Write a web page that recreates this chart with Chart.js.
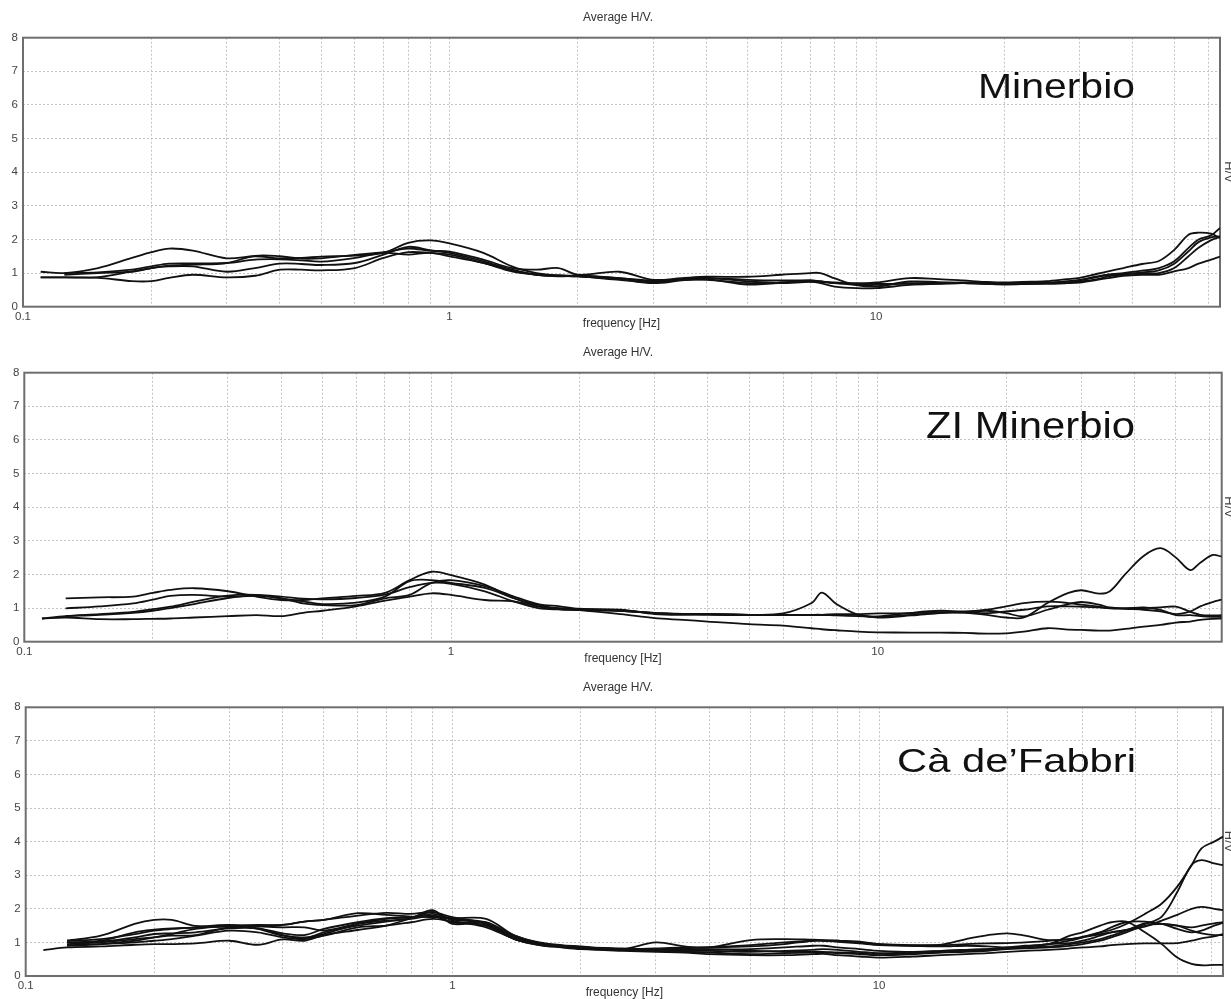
<!DOCTYPE html>
<html>
<head>
<meta charset="utf-8">
<script src="https://cdn.jsdelivr.net/npm/chart.js@4/dist/chart.umd.min.js"></script>
<style>
  html, body { margin: 0; padding: 0; background: #fff; overflow: hidden; width: 1231px; height: 999px; }
  .panel { position: absolute; left: 0; width: 1236px; height: 335px; }
  canvas { display: block; }
</style>
</head>
<body>
<div class="panel" style="top:0px"><canvas id="c1" width="1236" height="335"></canvas></div>
<div class="panel" style="top:335px"><canvas id="c2" width="1236" height="335"></canvas></div>
<div class="panel" style="top:670px"><canvas id="c3" width="1236" height="335"></canvas></div>
<script>
// ---------- DATA ----------
const freqs = [0.11,0.125,0.15,0.18,0.2, 0.22,0.25,0.3,0.35,0.4, 0.45,0.5,0.6,0.7,0.8, 0.9,1,1.2,1.4,1.6,
               1.8,2,2.5,3,3.5, 4,5,6,7,7.4, 8,9,10,12,14, 16,18,20,22,25, 28,30,33,35,38, 42,46,50,54,57, 61,64];
const xTickLabels = [0.1, 1, 10];
const xGridValues = [0.1,0.2,0.3,0.4,0.5,0.6,0.7,0.8,0.9,1,2,3,4,5,6,7,8,9,10,20,30,40,50,60];
const yTicks = [0,1,2,3,4,5,6,7,8];
const chartTitle = 'Average H/V.';
const xAxisTitle = 'frequency [Hz]';
const yAxisTitle = 'H/V';
const siteNames = ['Minerbio', 'ZI Minerbio', 'Cà de’Fabbri'];

// Minerbio
const minerbio1 = [1.04,1.0,1.15,1.45,1.62, 1.73,1.67,1.44,1.5,1.44, 1.45,1.49,1.52,1.6,1.9, 1.97,1.88,1.6,1.2,1.0,
  0.93,0.9,0.8,0.72,0.8, 0.8,0.7,0.7,0.74,0.73, 0.72,0.68,0.72,0.85,0.82, 0.78,0.74,0.72,0.74,0.76, 0.82,0.86,0.98,1.05,1.15, 1.27,1.36,1.69,2.14,2.2, 2.17,2.04];
const minerbio2 = [0.87,0.87,0.88,1.05,1.15, 1.22,1.25,1.3,1.51,1.5, 1.43,1.44,1.54,1.62,1.73, 1.66,1.64,1.4,1.15,1.1,
  1.15,0.95,1.04,0.8,0.85, 0.89,0.89,0.95,1.0,1.0, 0.84,0.64,0.6,0.75,0.73, 0.7,0.69,0.68,0.69,0.7, 0.74,0.78,0.88,0.95,1.0, 1.07,1.15,1.35,1.75,2.0, 2.12,2.34];
const minerbio3 = [0.87,0.87,0.86,0.76,0.76, 0.86,0.95,0.87,0.92,1.1, 1.1,1.08,1.15,1.45,1.62, 1.6,1.55,1.3,1.05,0.95,
  0.92,0.9,0.82,0.7,0.78, 0.82,0.66,0.72,0.75,0.7, 0.6,0.55,0.55,0.65,0.68, 0.7,0.69,0.68,0.68,0.68, 0.7,0.72,0.8,0.85,0.92, 0.95,0.95,1.05,1.15,1.28, 1.4,1.49];
const minerbio4 = [null,0.95,1.0,1.04,1.15, 1.2,1.2,1.04,1.15,1.28, 1.27,1.24,1.3,1.55,1.78, 1.68,1.6,1.35,1.1,0.95,
  0.9,0.92,0.85,0.75,0.82, 0.86,0.75,0.72,0.78,0.76, 0.7,0.65,0.65,0.7,0.71, 0.72,0.71,0.7,0.71,0.72, 0.74,0.75,0.82,0.9,0.96, 1.02,1.08,1.28,1.65,1.92, 2.06,2.09];
const minerbio5 = [null,1.0,1.02,1.1,1.2, 1.28,1.29,1.3,1.4,1.41, 1.38,1.34,1.45,1.6,1.55, 1.6,1.5,1.3,1.08,0.95,
  0.93,0.92,0.85,0.78,0.8, 0.85,0.8,0.78,0.78,0.75, 0.7,0.7,0.68,0.68,0.69, 0.7,0.68,0.66,0.67,0.7, 0.76,0.8,0.9,0.95,0.98, 1.0,1.0,1.15,1.5,1.75, 1.98,2.08];

// ZI Minerbio
const ziMinerbio1 = [null,1.29,1.32,1.34,1.45, 1.54,1.59,1.5,1.34,1.24, 1.24,1.29,1.36,1.45,1.83, 2.08,1.98,1.7,1.3,1.1,
  0.97,0.96,0.92,0.85,0.82, 0.8,0.79,0.79,0.79,0.79, 0.8,0.82,0.84,0.85,0.88, 0.86,0.8,0.72,0.72,1.15, 1.45,1.53,1.43,1.5,2.0, 2.55,2.78,2.5,2.13,2.35, 2.58,2.53];
const ziMinerbio2 = [null,0.99,1.05,1.14,1.25, 1.36,1.39,1.34,1.36,1.29, 1.14,1.09,1.09,1.29,1.39, 1.75,1.83,1.65,1.35,1.12,
  1.05,0.98,0.95,0.82,0.8, 0.82,0.8,0.79,0.8,0.8, 0.78,0.76,0.75,0.86,0.92, 0.9,0.95,1.05,1.15,1.19, 1.15,1.1,1.04,1.0,0.99, 1.02,0.95,0.79,0.79,0.76, 0.74,0.74];
const ziMinerbio3 = [0.69,0.76,0.82,0.89,0.97, 1.04,1.19,1.37,1.39,1.29, 1.2,1.12,1.16,1.34,1.8, 1.83,1.75,1.6,1.3,1.05,
  1.0,0.95,0.92,0.85,0.83, 0.82,0.8,0.79,0.8,0.8, 0.82,0.8,0.72,0.78,0.85, 0.88,0.85,0.9,0.95,1.05, 1.05,1.04,1.02,0.99,0.99, 1.0,1.02,1.04,0.89,0.8, 0.78,0.79];
const ziMinerbio4 = [0.69,0.72,0.67,0.67,0.68, 0.69,0.72,0.76,0.79,0.76, 0.86,0.92,1.05,1.22,1.34, 1.44,1.39,1.24,1.2,1.05,
  0.96,0.94,0.82,0.7,0.65, 0.6,0.52,0.48,0.4,0.37, 0.34,0.3,0.28,0.27,0.27, 0.26,0.24,0.25,0.3,0.4, 0.36,0.35,0.33,0.33,0.38, 0.45,0.5,0.57,0.6,0.65, 0.68,0.69];
const ziMinerbio5 = [null,0.76,0.8,0.86,0.92, 1.0,1.12,1.3,1.38,1.34, 1.28,1.26,1.3,1.4,1.62, 1.75,1.72,1.5,1.2,1.0,
  0.96,0.95,0.92,0.86,0.82, 0.82,0.8,0.84,1.15,1.46, 1.12,0.8,0.74,0.8,0.86, 0.88,0.92,0.85,0.75,0.95, 1.12,1.18,1.1,1.02,0.98, 0.95,0.9,0.82,0.9,1.05, 1.18,1.25];

// Cà de'Fabbri
const caDeFabbri1 = [null,1.05,1.2,1.55,1.67, 1.67,1.49,1.47,1.5,1.52, 1.62,1.67,1.8,1.88,1.85, 1.9,1.75,1.55,1.1,0.95,
  0.9,0.85,0.8,0.82,0.85, 0.85,0.88,0.95,1.05,1.05, 1.02,0.97,0.92,0.9,0.93, 1.1,1.22,1.27,1.2,1.07, 1.1,1.17,1.3,1.37,1.55, 1.85,2.16,2.66,3.3,3.8, 4.0,4.15];
const caDeFabbri2 = [0.77,0.85,0.88,0.93,0.95, 0.95,0.97,1.05,0.93,1.09, 1.05,1.22,1.37,1.5,1.72, 1.91,1.65,1.45,1.1,0.95,
  0.88,0.82,0.78,0.75,0.72, 0.7,0.65,0.68,0.7,0.7, 0.68,0.65,0.62,0.68,0.72, 0.75,0.78,0.82,0.88,0.95, 0.98,1.05,1.2,1.3,1.37, 1.55,1.77,2.5,3.3,3.45, 3.35,3.3];
const caDeFabbri3 = [null,1.0,1.05,1.3,1.38, 1.42,1.44,1.49,1.52,1.52, 1.62,1.67,1.87,1.82,1.77, 1.75,1.72,1.7,1.2,1.0,
  0.92,0.88,0.78,0.8,0.82, 0.85,0.92,1.0,1.05,1.05, 1.05,1.0,0.95,0.92,0.92, 0.95,0.97,0.98,1.0,1.05, 1.1,1.15,1.25,1.3,1.37, 1.47,1.65,1.82,2.0,2.06, 2.0,1.96];
const caDeFabbri4 = [null,0.95,1.0,1.1,1.15, 1.2,1.22,1.45,1.42,1.22, 1.12,1.3,1.5,1.62,1.72, 1.96,1.55,1.6,1.15,0.95,
  0.9,0.86,0.82,0.78,0.75, 0.75,0.72,0.75,0.78,0.8, 0.78,0.72,0.68,0.7,0.75, 0.78,0.8,0.82,0.85,0.88, 0.95,1.0,1.1,1.2,1.35, 1.57,1.55,1.5,1.45,1.5, 1.57,1.6];
const caDeFabbri5 = [null,1.0,1.02,1.15,1.25, 1.27,1.3,1.42,1.42,1.27, 1.22,1.4,1.6,1.72,1.75, 1.78,1.6,1.5,1.1,0.92,
  0.88,0.85,0.8,0.75,0.75, 0.78,0.8,0.85,0.9,0.9, 0.85,0.8,0.75,0.72,0.75, 0.78,0.8,0.85,0.9,0.95, 1.2,1.3,1.5,1.6,1.62, 1.3,0.95,0.55,0.36,0.32, 0.33,0.33];
const caDeFabbri6 = [null,0.9,0.95,1.05,1.15, 1.25,1.4,1.5,1.48,1.45, 1.45,1.35,1.55,1.65,1.7, 1.8,1.68,1.55,1.15,0.95,
  0.88,0.85,0.8,0.78,0.78, 0.8,0.75,0.72,0.72,0.72, 0.7,0.68,0.62,0.65,0.7, 0.72,0.75,0.8,0.82,0.85, 0.9,0.95,1.05,1.15,1.3, 1.5,1.55,1.5,1.35,1.27, 1.22,1.22];
const caDeFabbri7 = [null,0.92,0.95,1.0,1.05, 1.1,1.2,1.35,1.3,1.15, 1.1,1.2,1.45,1.5,1.6, 1.7,1.62,1.5,1.1,0.92,
  0.85,0.8,0.75,0.72,0.7, 0.65,0.62,0.62,0.65,0.66, 0.62,0.58,0.55,0.58,0.62, 0.65,0.68,0.72,0.75,0.78, 0.82,0.85,0.88,0.92,0.95, 0.97,0.97,0.98,1.05,1.12, 1.18,1.25];
const caDeFabbri8 = [null,1.05,1.1,1.25,1.35, 1.4,1.45,1.52,1.4,1.2, 1.15,1.25,1.55,1.7,1.75, 1.85,1.7,1.6,1.2,0.98,
  0.9,0.85,0.8,1.0,0.88, 0.85,1.07,1.1,1.08,1.07, 1.05,1.02,0.95,0.9,0.88, 0.9,0.88,0.85,0.88,0.95, 1.05,1.15,1.3,1.45,1.6, 1.62,1.55,1.4,1.3,1.35, 1.5,1.58];

const panelSeries = [
  [minerbio1, minerbio2, minerbio3, minerbio4, minerbio5],
  [ziMinerbio1, ziMinerbio2, ziMinerbio3, ziMinerbio4, ziMinerbio5],
  [caDeFabbri1, caDeFabbri2, caDeFabbri3, caDeFabbri4, caDeFabbri5, caDeFabbri6, caDeFabbri7, caDeFabbri8]
];

// ---------- LAYOUT ----------
const CANVAS_W = 1236, CANVAS_H = 335;
const panelLayout = [
  { id: 'c1', left: 23,   right: 1220,   plotTop: 37.7, plotBottom: 306.7, xTitleY: 324, labelRight: 1135, labelBase: 98,  labelSize: 35, labelWidth: 157 },
  { id: 'c2', left: 24.3, right: 1221.7, plotTop: 37.7, plotBottom: 306.7, xTitleY: 324, labelRight: 1135, labelBase: 103, labelSize: 36, labelWidth: 209 },
  { id: 'c3', left: 25.7, right: 1223,   plotTop: 37.3, plotBottom: 306,   xTitleY: 323, labelRight: 1136, labelBase: 102, labelSize: 33, labelWidth: 239 }
];

const FONT = '"Liberation Sans", Arial, sans-serif';

const framePlugin = {
  id: 'frame',
  beforeDatasetsDraw(chart) {
    const { ctx, chartArea: a } = chart;
    ctx.save();
    ctx.strokeStyle = '#6e6e6e';
    ctx.lineWidth = 2;
    ctx.strokeRect(a.left, a.top, a.right - a.left, a.bottom - a.top);
    ctx.restore();
  }
};

const sitePlugin = {
  id: 'siteLabel',
  afterDatasetsDraw(chart, args, opts) {
    const { ctx } = chart;
    ctx.save();
    ctx.font = opts.size + 'px ' + FONT;
    const w = ctx.measureText(opts.text).width;
    const sx = opts.width / w;
    ctx.translate(opts.right, opts.base);
    ctx.scale(sx, 1);
    ctx.textAlign = 'right';
    ctx.textBaseline = 'alphabetic';
    ctx.fillStyle = '#111';
    ctx.fillText(opts.text, 0, 0);
    ctx.restore();
  }
};

panelLayout.forEach((p, i) => {
  const titleFont = 12, lh = titleFont * 1.2;
  const titlePadTop = 18 - lh / 2;
  const titlePadBottom = p.plotTop - titlePadTop - lh;
  const xScaleH = CANVAS_H - p.plotBottom;
  const xTitlePadBottom = CANVAS_H - p.xTitleY - lh / 2;

  const datasets = panelSeries[i].map((vals, k) => ({
    label: siteNames[i] + ' ' + (k + 1),
    data: freqs.map((f, j) => ({ x: f, y: vals[j] })).filter(d => d.y !== null),
    borderColor: '#111',
    borderWidth: 1.8,
    pointRadius: 0,
    tension: 0.35,
    fill: false
  }));

  new Chart(document.getElementById(p.id), {
    type: 'line',
    data: { datasets },
    options: {
      responsive: false,
      animation: false,
      devicePixelRatio: 1,
      layout: { padding: 0 },
      plugins: {
        legend: { display: false },
        tooltip: { enabled: false },
        title: {
          display: true, text: chartTitle, color: '#333',
          font: { family: FONT, size: titleFont, weight: 'normal' },
          padding: { top: titlePadTop, bottom: titlePadBottom }
        },
        siteLabel: { text: siteNames[i], right: p.labelRight, base: p.labelBase, size: p.labelSize, width: p.labelWidth }
      },
      scales: {
        x: {
          type: 'logarithmic', min: 0.1, max: 64,
          afterBuildTicks(scale) { scale.ticks = xGridValues.map(v => ({ value: v, major: xTickLabels.includes(v) })); },
          afterFit(scale) { scale.height = xScaleH; },
          ticks: {
            autoSkip: false, maxRotation: 0, padding: 3, color: '#444',
            font: { family: FONT, size: 11.5 },
            callback: (v) => xTickLabels.includes(v) ? String(v) : ''
          },
          grid: { color: '#c4c4c4', lineWidth: 1, drawTicks: false },
          border: { display: false, dash: [2, 2] },
          title: { display: true, text: xAxisTitle, color: '#333', font: { family: FONT, size: titleFont }, padding: { top: 0, bottom: xTitlePadBottom } }
        },
        y: {
          type: 'linear', min: 0, max: 8, position: 'left',
          afterBuildTicks(scale) { scale.ticks = yTicks.map(v => ({ value: v })); },
          afterFit(scale) { scale.width = p.left; },
          ticks: { padding: 5, color: '#444', font: { family: FONT, size: 11.5 } },
          grid: { color: '#c4c4c4', lineWidth: 1, drawTicks: false },
          border: { display: false, dash: [2, 2] }
        },
        y2: {
          type: 'linear', min: 0, max: 8, position: 'right',
          afterFit(scale) { scale.width = CANVAS_W - p.right; },
          ticks: { display: false },
          grid: { display: false, drawTicks: false },
          border: { display: false },
          title: { display: true, text: yAxisTitle, color: '#444', font: { family: FONT, size: 13 }, padding: { top: 0, bottom: 0 } }
        }
      }
    },
    plugins: [framePlugin, sitePlugin]
  });
});
</script>
</body>
</html>
